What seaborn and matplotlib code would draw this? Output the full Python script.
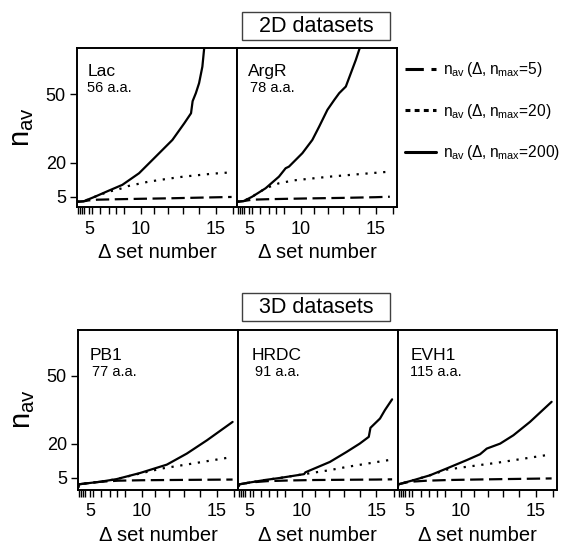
import numpy as np
import pandas as pd
import matplotlib
matplotlib.use("Agg")
import matplotlib.pyplot as plt
import seaborn as sns
from matplotlib.lines import Line2D
from matplotlib.patches import Rectangle

# ---------------- data ----------------
panels = ["Lac", "ArgR", "PB1", "HRDC", "EVH1"]
residues = ["56 a.a.", "78 a.a.", "77 a.a.", "91 a.a.", "115 a.a."]
series_names = ["nmax5", "nmax20", "nmax200"]

lac_d200 = [3.27, 4.3, 5.8, 7.24, 8.48, 9.87, 11.13, 12.29, 13.07, 13.5, 13.6, 13.8, 14.0, 14.2, 14.3, 14.4]
lac_n200 = [2.9, 3.1, 5.2, 7.8, 10.3, 15.4, 22.7, 30.0, 37.3, 41.7, 47.0, 50.5, 54.9, 62.1, 69.5, 78.0]
lac_d20 = [3.27, 4.3, 5.8, 7.24, 8.0, 9.0, 10.6, 12.0, 13.0, 14.8, 15.9]
lac_n20 = [2.9, 3.1, 5.2, 7.4, 8.1, 9.8, 11.7, 13.0, 13.9, 15.2, 15.8]
lac_d5 = [3.27, 4.3, 5.0, 6.0, 8.0, 10.0, 12.0, 14.0, 15.9]
lac_n5 = [2.9, 3.1, 3.5, 3.8, 4.0, 4.2, 4.4, 4.7, 5.0]

argr_d200 = [3.27, 4.3, 5.41, 6.9, 8.18, 8.77, 9.05, 10.13, 10.88, 11.37, 11.95, 12.41, 12.74, 13.17, 13.8, 14.05, 14.2]
argr_n200 = [2.9, 3.2, 5.1, 8.8, 13.9, 17.6, 18.3, 24.2, 30.0, 35.8, 43.2, 47.5, 50.5, 53.4, 65.1, 70.5, 76.0]
argr_d20 = [3.27, 4.3, 5.41, 6.9, 8.18, 9.5, 12.1, 14.0, 15.8]
argr_n20 = [2.9, 3.2, 5.1, 8.8, 11.0, 12.3, 13.9, 15.0, 16.1]
argr_d5 = [3.27, 4.3, 5.4, 7.0, 9.0, 11.0, 13.0, 15.0, 15.8]
argr_n5 = [2.9, 3.2, 3.8, 4.0, 4.2, 4.4, 4.6, 4.9, 5.1]

pb1_d200 = [3.27, 3.4, 4.5, 6.19, 7.88, 9.87, 11.84, 13.17, 14.42, 15.9]
pb1_n200 = [0.5, 2.0, 2.4, 3.1, 4.3, 7.0, 10.7, 15.6, 21.5, 29.6]
pb1_d20 = [3.27, 3.4, 4.5, 6.19, 7.88, 9.87, 11.5, 13.2, 15.9]
pb1_n20 = [0.5, 2.0, 2.4, 3.1, 4.3, 6.8, 9.0, 10.8, 14.1]
pb1_d5 = [3.27, 3.4, 4.5, 6.19, 8.0, 10.0, 12.0, 14.0, 15.9]
pb1_n5 = [0.5, 2.0, 2.4, 3.1, 3.6, 3.8, 3.9, 4.0, 4.1]

hrdc_d200 = [3.27, 3.5, 5.0, 6.9, 8.18, 9.05, 10.2, 10.3, 12.07, 13.17, 14.0, 14.55, 14.65, 15.21, 15.49, 15.9]
hrdc_n200 = [1.0, 2.0, 2.8, 4.0, 4.8, 5.5, 6.5, 7.3, 11.9, 16.3, 20.0, 23.0, 27.0, 31.1, 34.8, 39.6]
hrdc_d20 = [3.27, 3.5, 5.0, 6.9, 8.18, 9.05, 10.2, 12.0, 13.2, 15.7]
hrdc_n20 = [1.0, 2.0, 2.8, 4.0, 4.8, 5.5, 6.5, 8.2, 9.7, 12.7]
hrdc_d5 = [3.27, 3.5, 5.0, 7.0, 9.0, 11.0, 13.0, 15.0, 15.9]
hrdc_n5 = [1.0, 2.0, 2.8, 3.4, 3.7, 3.9, 4.0, 4.1, 4.2]

evh1_d200 = [3.27, 3.4, 5.5, 7.31, 8.83, 10.44, 11.42, 11.89, 12.79, 13.64, 14.65, 15.9]
evh1_n200 = [0.5, 2.0, 3.8, 6.0, 9.0, 12.7, 15.3, 17.8, 20.0, 23.7, 29.6, 38.5]
evh1_d20 = [3.27, 3.4, 5.5, 7.31, 8.83, 10.0, 11.5, 12.56, 15.6]
evh1_n20 = [0.5, 2.0, 3.8, 6.0, 8.5, 9.4, 10.6, 11.5, 14.9]
evh1_d5 = [3.27, 3.4, 5.0, 7.0, 9.0, 11.0, 13.0, 15.0, 15.9]
evh1_n5 = [0.5, 2.0, 3.1, 3.6, 3.9, 4.1, 4.3, 4.5, 4.6]

x_major = [5, 10, 15]
x_minor = [3.5, 3.8, 4.1, 4.4, 5.4, 6.35, 7.2, 7.95, 8.65, 11, 12, 13, 14, 16]
y_ticks = [5, 20, 50]
legend_labels = [r"$n_{av}\,(\Delta, n_{max}$=5)",
                 r"$n_{av}\,(\Delta, n_{max}$=20)",
                 r"$n_{av}\,(\Delta, n_{max}$=200)"]

raw = {
    "Lac": [(lac_d5, lac_n5), (lac_d20, lac_n20), (lac_d200, lac_n200)],
    "ArgR": [(argr_d5, argr_n5), (argr_d20, argr_n20), (argr_d200, argr_n200)],
    "PB1": [(pb1_d5, pb1_n5), (pb1_d20, pb1_n20), (pb1_d200, pb1_n200)],
    "HRDC": [(hrdc_d5, hrdc_n5), (hrdc_d20, hrdc_n20), (hrdc_d200, hrdc_n200)],
    "EVH1": [(evh1_d5, evh1_n5), (evh1_d20, evh1_n20), (evh1_d200, evh1_n200)],
}
rows = []
for p in panels:
    for s, (d, n) in zip(series_names, raw[p]):
        for xi, yi in zip(d, n):
            rows.append((p, s, xi, yi))
df = pd.DataFrame(rows, columns=["panel", "series", "delta", "nav"])

# ---------------- style ----------------
sns.set_theme(style="ticks")
plt.rcParams["font.family"] = ["Liberation Sans", "DejaVu Sans"]
plt.rcParams["mathtext.default"] = "regular"
for k in ("text.color", "axes.labelcolor", "xtick.color", "ytick.color",
          "axes.edgecolor"):
    plt.rcParams[k] = "black"

W, H = 571, 548
fig = plt.figure(figsize=(W / 100, H / 100), dpi=100)

def px_axes(l, t, w, h):
    return fig.add_axes([l / W, 1 - (t + h) / H, w / W, h / H])

axes_px = {
    "Lac": (77, 48, 160, 159),
    "ArgR": (237, 48, 160, 159),
    "PB1": (78, 329.5, 160, 160),
    "HRDC": (238, 329.5, 159.5, 160),
    "EVH1": (397.5, 329.5, 159.5, 160),
}
ylims = {"Lac": (0.6, 70.3), "ArgR": (0.6, 70.3),
         "PB1": (-0.3, 70.5), "HRDC": (-0.3, 70.5), "EVH1": (-0.3, 70.5)}
name_x = {"Lac": 0.065, "ArgR": 0.07, "PB1": 0.075, "HRDC": 0.085, "EVH1": 0.08}
aa_x = {"Lac": 0.065, "ArgR": 0.08, "PB1": 0.085, "HRDC": 0.105, "EVH1": 0.08}
name_y = {"Lac": 0.85, "ArgR": 0.85, "PB1": 0.835, "HRDC": 0.835, "EVH1": 0.835}

styles = {"nmax5": (0, (6, 2.5)), "nmax20": (0, (1, 3)), "nmax200": "-"}

P = 1.72
fwd = lambda x: np.sign(x) * np.abs(x) ** P
inv = lambda y: np.sign(y) * np.abs(y) ** (1 / P)

for p, aa in zip(panels, residues):
    ax = px_axes(*axes_px[p])
    sub = df[df.panel == p]
    for s in series_names:
        sns.lineplot(data=sub[sub.series == s], x="delta", y="nav", ax=ax,
                     color="black", lw=1.6, linestyle=styles[s],
                     estimator=None, sort=False, legend=False)
    ax.set_xscale("function", functions=(fwd, inv))
    ax.set_xlim(3.25, 16.2)
    ax.set_ylim(*ylims[p])
    ax.set_xticks(x_major)
    ax.set_xticklabels([str(v) for v in x_major])
    ax.set_xticks(x_minor, minor=True)
    ax.tick_params(which="both", axis="x", direction="out", length=5, width=1,
                   bottom=True, labelsize=13, pad=5, color="black")
    if p in ("Lac", "PB1"):
        ax.set_yticks(y_ticks)
        ax.tick_params(axis="y", direction="out", length=5, width=1, left=True,
                       labelsize=13, pad=3, color="black")
        ax.set_ylabel(r"$n_{av}$", fontsize=21, labelpad=7)
    else:
        ax.set_yticks([])
        ax.set_ylabel("")
    ax.set_xlabel("Δ set number", fontsize=14.5, labelpad=4)
    for sp in ax.spines.values():
        sp.set_linewidth(1.4)
        sp.set_color("black")
    ax.text(name_x[p], name_y[p], p, transform=ax.transAxes, fontsize=12.5,
            va="center", ha="left")
    ax.text(aa_x[p], name_y[p] - 0.1, aa, transform=ax.transAxes, fontsize=10.5,
            va="center", ha="left")

# title boxes
for txt, top in (("2D datasets", 12), ("3D datasets", 293)):
    fig.add_artist(Rectangle((242 / W, 1 - (top + 28) / H), 148 / W, 28 / H,
                             transform=fig.transFigure, fill=False,
                             ec="0.25", lw=1))
    fig.text(316 / W, 1 - (top + 14.5) / H, txt, ha="center", va="center",
             fontsize=15.5)

# legend
handles = [Line2D([], [], color="black", lw=2.2, linestyle=(0, (6, 2.5))),
           Line2D([], [], color="black", lw=2.2, linestyle=(0, (1.6, 1.4))),
           Line2D([], [], color="black", lw=2.2, linestyle="-")]
fig.legend(handles, legend_labels, loc="upper left",
           bbox_to_anchor=(399 / W, 1 - 54 / H), frameon=False, fontsize=11.2,
           handlelength=2.0, handletextpad=0.4, labelspacing=1.45,
           borderaxespad=0)

fig.savefig("out.png", dpi=100)
